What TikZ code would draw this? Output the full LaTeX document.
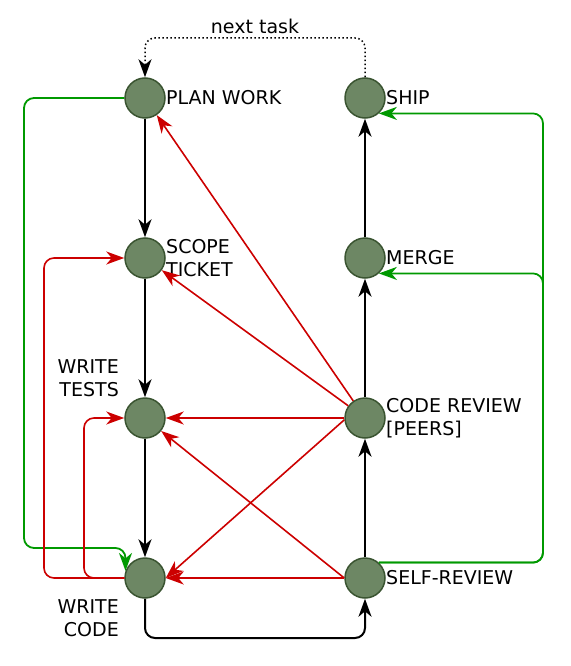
\documentclass[tikz,border=0pt]{standalone}
\usepackage{fontspec}
\setmainfont{DejaVu Sans}
\usetikzlibrary{arrows.meta,calc}
\definecolor{nodefill}{HTML}{6D8764}
\definecolor{nodeline}{HTML}{3A5431}
\definecolor{redline}{HTML}{CC0000}
\definecolor{greenline}{HTML}{009900}
\begin{document}
\begin{tikzpicture}[x=1pt,y=-1pt,
  state/.style={circle, minimum size=40pt, inner sep=0pt, fill=nodefill, draw=nodeline, line width=1.5pt},
  lbl/.style={inner sep=0pt, font=\fontsize{19}{23}\selectfont},
  tipstyle/.style={-{Stealth[length=18pt,width=13pt,inset=5.5pt]}},
  blk/.style={tipstyle, line width=2pt, black},
  rd/.style={tipstyle, line width=1.6pt, redline},
  gr/.style={tipstyle, line width=1.8pt, greenline, rounded corners=10pt},
  dotline/.style={tipstyle, line width=1.5pt, black, dash pattern=on 1.5pt off 2.5pt, rounded corners=10pt},
]
\useasboundingbox (0,0) rectangle (570,666);

% states
\node[state] (pw) at (145,98) {};
\node[state] (st) at (145,258) {};
\node[state] (wt) at (145,418) {};
\node[state] (wc) at (145,578) {};
\node[state] (sh) at (365,98) {};
\node[state] (mg) at (365,258) {};
\node[state] (cr) at (365,418) {};
\node[state] (sr) at (365,578) {};

% labels
\node[lbl, anchor=west] (pwl) at (166,98) {PLAN WORK};
\node[lbl, anchor=west, align=left] (stl) at (166,258.5) {SCOPE\\TICKET};
\node[lbl, anchor=east, align=right] (wtl) at (119,378.5) {WRITE\\TESTS};
\node[lbl, anchor=east, align=right] (wcl) at (119,618.5) {WRITE\\CODE};
\node[lbl, anchor=west] (shl) at (386,98) {SHIP};
\node[lbl, anchor=west] (mgl) at (386,258) {MERGE};
\node[lbl, anchor=west, align=left] (crl) at (386,418) {CODE REVIEW\\{[PEERS]}};
\node[lbl, anchor=west] (srl) at (386,578) {SELF-REVIEW};
\node[lbl, anchor=base] (ntl) at (255,34) {next task};

% helper coordinates
\coordinate (nt) at (255,38);
\coordinate (cb) at (255,638);
\coordinate (g1) at (24,548);
\coordinate (gx) at (543,0);
\coordinate (ra) at (44,0);
\coordinate (rb) at (84,0);

% main flow
\draw[blk] (pw) -- (st);
\draw[blk] (st) -- (wt);
\draw[blk] (wt) -- (wc);
\draw[blk, rounded corners=10pt] (wc.south) |- (cb) -| (sr.south);
\draw[blk] (sr) -- (cr);
\draw[blk] (cr) -- (mg);
\draw[blk] (mg) -- (sh);
\draw[dotline] (sh.north) |- (nt) -| (pw.north);

% green
\draw[gr] (pw.west) -| (g1) -| (wc.160);
\draw[gr] (sr.48) -| (gx |- sh.-48) -- (sh.-48);
\draw[gr] (sr.48) -| (gx |- mg.-48) -- (mg.-48);

% red
\draw[rd] (cr) -- (pw);
\draw[rd] (cr) -- (st);
\draw[rd] (cr.west) -- (wt.east);
\draw[rd] (cr.185) -- (wc.east);
\draw[rd] (sr.west) -- (wc.east);
\draw[rd] (sr.west) -- (wt);
\draw[rd, rounded corners=10pt] (wc.west) -| (ra |- st.west) -- (st.west);
\draw[rd, rounded corners=10pt] (wc.west) -| (rb |- wt.west) -- (wt.west);
\end{tikzpicture}
\end{document}
